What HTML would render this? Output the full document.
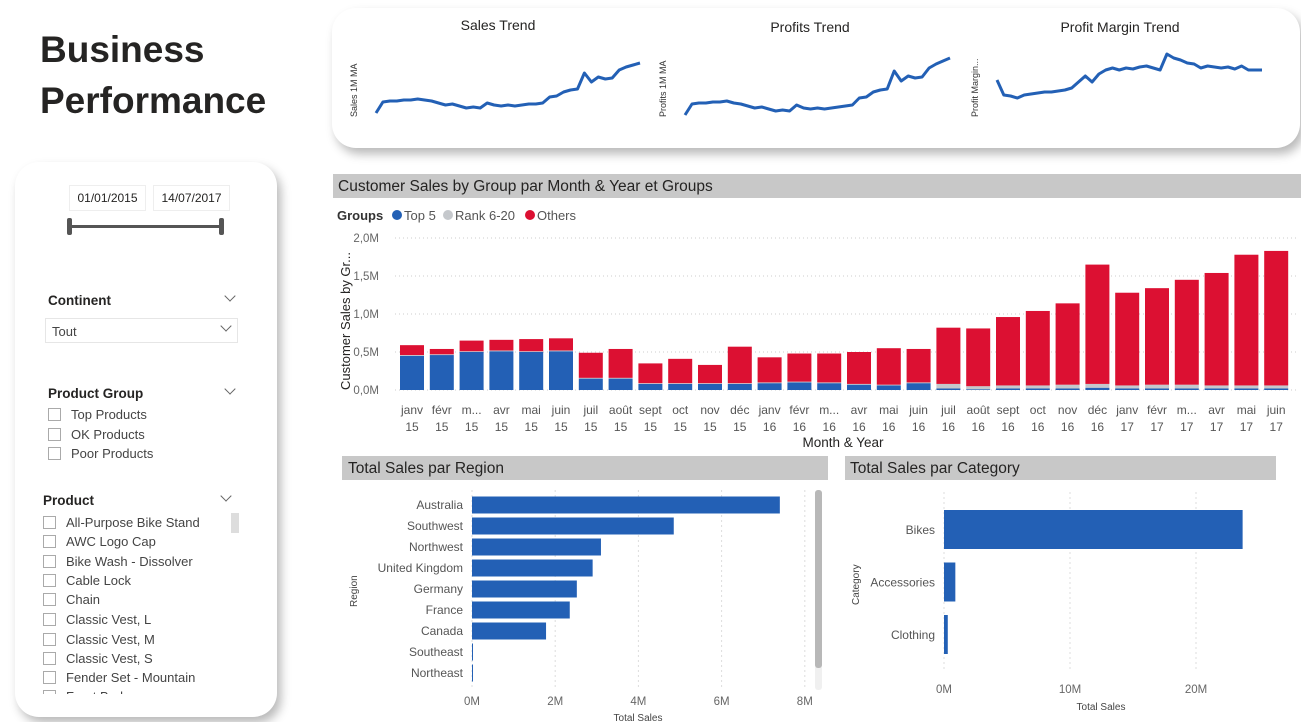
<!DOCTYPE html>
<html><head><meta charset="utf-8"><style>
body{margin:0;width:1301px;height:722px;background:#fff;font-family:"Liberation Sans",sans-serif;position:relative;overflow:hidden;color:#252423}
.abs{position:absolute}
.panel{position:absolute;background:#fff;border-radius:24px;box-shadow:4px 6px 10px rgba(0,0,0,0.28)}
.cb{display:inline-block;width:11px;height:11px;border:1px solid #aaa;vertical-align:-2px;margin-right:10px;background:#fff}
.item{position:absolute;font-size:13px;color:#444;white-space:nowrap}
.chev{position:absolute;width:7px;height:7px;border-right:1.3px solid #666;border-bottom:1.3px solid #666;transform:rotate(45deg)}
.hdr{position:absolute;font-size:13.5px;font-weight:bold;color:#252423}
</style></head><body>
<div class="abs" style="left:40px;top:24px;font-size:37px;font-weight:bold;line-height:51px;color:#252423">Business<br>Performance</div>

<div class="panel" style="left:332px;top:8px;width:968px;height:140px"></div>
<div class="panel" style="left:15px;top:162px;width:262px;height:555px"></div>

<div class="abs" style="left:69px;top:185px;width:75px;height:24px;border:1px solid #eee;font-size:12px;line-height:24px;text-align:center">01/01/2015</div>
<div class="abs" style="left:153px;top:185px;width:75px;height:24px;border:1px solid #eee;font-size:12px;line-height:24px;text-align:center">14/07/2017</div>
<div class="abs" style="left:70px;top:225px;width:152px;height:3px;background:#555"></div>
<div class="abs" style="left:67px;top:218px;width:5px;height:17px;background:#555;border-radius:2px"></div>
<div class="abs" style="left:219px;top:218px;width:5px;height:17px;background:#555;border-radius:2px"></div>

<div class="hdr" style="left:48px;top:293px">Continent</div>
<div class="chev" style="left:226px;top:292px"></div>
<div class="abs" style="left:45px;top:318px;width:193px;height:25px;border:1px solid #e6e6e6;font-size:13px;line-height:25px;padding-left:6px;box-sizing:border-box;color:#444">Tout</div>
<div class="chev" style="left:222px;top:322px"></div>

<div class="hdr" style="left:48px;top:386px">Product Group</div>
<div class="chev" style="left:226px;top:385px"></div>
<div class="item" style="left:48px;top:407px"><span class="cb"></span>Top Products</div>
<div class="item" style="left:48px;top:427px"><span class="cb"></span>OK Products</div>
<div class="item" style="left:48px;top:446px"><span class="cb"></span>Poor Products</div>

<div class="hdr" style="left:43px;top:493px">Product</div>
<div class="chev" style="left:222px;top:492px"></div>
<div class="abs" style="left:231px;top:513px;width:8px;height:20px;background:#ddd"></div>
<div class="abs" style="left:43px;top:514px;width:185px;height:180px;overflow:hidden">
<div class="item" style="left:0;top:1px"><span class="cb"></span>All-Purpose Bike Stand</div>
<div class="item" style="left:0;top:20px"><span class="cb"></span>AWC Logo Cap</div>
<div class="item" style="left:0;top:40px"><span class="cb"></span>Bike Wash - Dissolver</div>
<div class="item" style="left:0;top:59px"><span class="cb"></span>Cable Lock</div>
<div class="item" style="left:0;top:78px"><span class="cb"></span>Chain</div>
<div class="item" style="left:0;top:98px"><span class="cb"></span>Classic Vest, L</div>
<div class="item" style="left:0;top:118px"><span class="cb"></span>Classic Vest, M</div>
<div class="item" style="left:0;top:137px"><span class="cb"></span>Classic Vest, S</div>
<div class="item" style="left:0;top:156px"><span class="cb"></span>Fender Set - Mountain</div>
<div class="item" style="left:0;top:175px"><span class="cb"></span>Front Brakes</div>
</div>

<svg id="svg" class="abs" style="left:0;top:0" width="1301" height="722" font-family="Liberation Sans, sans-serif"></svg>

<script>
// ---- Sparkline data ----
const salesTrend=[0,11,12,12,13,13,14,13,12,10,8,9,7,5,6,5,10,8,7,8,7,8,9,9,10,16,17,21,23,24,40,31,36,34,35,43,46,48,50];
const profitsTrend=[0,11,12,12,13,13,14,12,11,9,7,8,6,4,5,4,10,7,6,7,6,7,8,9,10,17,18,23,25,26,44,34,39,37,38,47,51,54,57];
const marginTrend=[20,5,4,2,5,6,7,8,8,9,10,12,18,24,18,26,30,32,30,32,31,33,34,32,30,46,42,40,37,36,32,34,33,32,33,31,34,30,30,30];
// ---- Main stacked chart data ----
const months=["janv","févr","m...","avr","mai","juin","juil","août","sept","oct","nov","déc","janv","févr","m...","avr","mai","juin","juil","août","sept","oct","nov","déc","janv","févr","m...","avr","mai","juin"];
const years=["15","15","15","15","15","15","15","15","15","15","15","15","16","16","16","16","16","16","16","16","16","16","16","16","17","17","17","17","17","17"];
const top5=[0.45,0.46,0.50,0.51,0.50,0.51,0.15,0.15,0.08,0.08,0.08,0.08,0.09,0.10,0.09,0.07,0.06,0.09,0.02,0.01,0.02,0.02,0.02,0.03,0.02,0.02,0.02,0.02,0.02,0.02];
const rank620=[0.01,0.01,0.01,0.01,0.01,0.01,0.01,0.01,0.01,0.01,0.01,0.01,0.01,0.01,0.01,0.01,0.01,0.01,0.06,0.04,0.04,0.04,0.05,0.05,0.04,0.05,0.05,0.04,0.04,0.04];
const others=[0.13,0.07,0.14,0.14,0.16,0.16,0.33,0.38,0.26,0.32,0.24,0.48,0.33,0.37,0.38,0.42,0.48,0.44,0.74,0.76,0.90,0.98,1.07,1.57,1.22,1.27,1.38,1.48,1.72,1.77];
const mainTicks=[0,0.5,1.0,1.5,2.0];
const mainTickLabels=["0,0M","0,5M","1,0M","1,5M","2,0M"];
// ---- Region data ----
const regions=["Australia","Southwest","Northwest","United Kingdom","Germany","France","Canada","Southeast","Northeast"];
const regionSales=[7.4,4.85,3.1,2.9,2.52,2.35,1.78,0.02,0.02];
const regionTicks=[0,2,4,6,8];
// ---- Category data ----
const categories=["Bikes","Accessories","Clothing"];
const categorySales=[23.7,0.9,0.3];
const categoryTicks=[0,10,20];

const NS="http://www.w3.org/2000/svg";
const svg=document.getElementById('svg');
function mk(tag,attrs,parent){const e=document.createElementNS(NS,tag);for(const k in attrs)e.setAttribute(k,attrs[k]);(parent||svg).appendChild(e);return e;}
function txt(s,attrs){const t=mk('text',attrs);t.textContent=s;return t;}
const BLUE="#2360b5",RED="#dc1032",GREY="#c5c8cc";

// Sparklines
function spark(data,x0,x1,yBottom,scale,name,title,tx,ty,ylab){
  const xs=i=>x0+(x1-x0)*i/(data.length-1);
  const ys=v=>yBottom-v*scale;
  let d=data.map((v,i)=>(i?'L':'M')+xs(i).toFixed(1)+','+ys(v).toFixed(1)).join(' ');
  const p=mk('path',{d:d,fill:'none',stroke:BLUE,'stroke-width':3,'stroke-linejoin':'round'});
  
  
  const t=txt(title,{x:tx,y:ty,'font-size':14,'text-anchor':'middle',fill:'#252423'});
  
  
  const yl=txt(ylab,{x:0,y:0,'font-size':9,fill:'#333',transform:'translate('+(x0-19)+',117) rotate(-90)'});
  
  
}
spark(salesTrend,376,640,113,1,'sales-trend-line','Sales Trend',498,30,'Sales 1M MA');
spark(profitsTrend,685,950,115,1,'profits-trend-line','Profits Trend',810,32,'Profits 1M MA');
spark(marginTrend,997,1262,100,1,'profit-margin-trend-line','Profit Margin Trend',1120,32,'Profit Margin...');

// Main chart header
let r=mk('rect',{x:333,y:174,width:968,height:24,fill:'#c8c8c8'});


let t=txt('Customer Sales by Group par Month & Year et Groups',{x:338,y:191,'font-size':15.5,fill:'#252423'});


// legend
t=txt('Groups',{x:337,y:220,'font-size':13,'font-weight':'bold',fill:'#333'});


const leg=[["Top 5",BLUE,397],["Rank 6-20",GREY,448],["Others",RED,530]];
leg.forEach(l=>{
  const c=mk('circle',{cx:l[2],cy:215,r:5,fill:l[1]});
  
  
  const tt=txt(l[0],{x:l[2]+7,y:220,'font-size':13,fill:'#555'});
  
  
});
// axes
const yM=v=>390-v*76;
const xM=i=>412+i*29.8;
mainTicks.forEach((v,i)=>{
  const g=mk('line',{x1:395,x2:1296,y1:yM(v),y2:yM(v),stroke:'#ccc','stroke-dasharray':'1,3'});
  
  
  const l=txt(mainTickLabels[i],{x:379,y:yM(v)+4,'font-size':11.5,'text-anchor':'end',fill:'#666'});
  
  
});
t=txt('Customer Sales by Gr...',{x:0,y:0,'font-size':13,fill:'#252423',transform:'translate(350,390) rotate(-90)'});


months.forEach((m,i)=>{
  const x=xM(i),bw=24;
  let y0=390;
  [[top5[i],BLUE,'bar-top5'],[rank620[i],GREY,'bar-rank6-20'],[others[i],RED,'bar-others']].forEach(s=>{
    const h=s[0]*76;
    const b=mk('rect',{x:x-bw/2,y:y0-h,width:bw,height:h,fill:s[1]});
    
    
    y0-=h;
  });
  const l1=txt(m,{x:x,y:414,'font-size':12,'text-anchor':'middle',fill:'#555'});
  
  
  const l2=txt(years[i],{x:x,y:431,'font-size':12,'text-anchor':'middle',fill:'#555'});
  
  
});
t=txt('Month & Year',{x:843,y:447,'font-size':13.5,'text-anchor':'middle',fill:'#252423'});



// Region chart
r=mk('rect',{x:342,y:456,width:486,height:24,fill:'#c8c8c8'});


t=txt('Total Sales par Region',{x:348,y:473,'font-size':15.5,fill:'#252423'});


const xR=v=>472+v*41.6;
regionTicks.forEach(v=>{
  const g=mk('line',{x1:xR(v),x2:xR(v),y1:490,y2:690,stroke:'#ddd','stroke-dasharray':'2,3'});
  
  
  const l=txt(v+'M',{x:xR(v),y:705,'font-size':11.5,'text-anchor':'middle',fill:'#666'});
  
  
});
regions.forEach((n,i)=>{
  const cy=505+i*21;
  const b=mk('rect',{x:472,y:cy-8.5,width:Math.max(1,regionSales[i]*41.6),height:17,fill:BLUE});
  
  
  const l=txt(n,{x:463,y:cy+4,'font-size':12,'text-anchor':'end',fill:'#555'});
  
  
});
r=mk('rect',{x:815,y:490,width:7,height:200,fill:'#f0f0f0',rx:3});


r=mk('rect',{x:815,y:490,width:7,height:178,fill:'#b8b8b8',rx:3});


t=txt('Total Sales',{x:638,y:721,'font-size':10,'text-anchor':'middle',fill:'#444'});


t=txt('Region',{x:0,y:0,'font-size':10,fill:'#444',transform:'translate(357,607) rotate(-90)'});



// Category chart
r=mk('rect',{x:845,y:456,width:431,height:24,fill:'#c8c8c8'});


t=txt('Total Sales par Category',{x:850,y:473,'font-size':15.5,fill:'#252423'});


const xC=v=>944+v*12.6;
categoryTicks.forEach(v=>{
  const g=mk('line',{x1:xC(v),x2:xC(v),y1:492,y2:672,stroke:'#ddd','stroke-dasharray':'2,3'});
  
  
  const l=txt(v+'M',{x:xC(v),y:693,'font-size':11.5,'text-anchor':'middle',fill:'#666'});
  
  
});
categories.forEach((n,i)=>{
  const cy=530+i*52.5;
  const b=mk('rect',{x:944,y:cy-20,width:Math.max(2,categorySales[i]*12.6),height:39,fill:BLUE});
  
  
  const l=txt(n,{x:935,y:cy+4,'font-size':12,'text-anchor':'end',fill:'#555'});
  
  
});
t=txt('Total Sales',{x:1101,y:710,'font-size':10,'text-anchor':'middle',fill:'#444'});


t=txt('Category',{x:0,y:0,'font-size':10,fill:'#444',transform:'translate(859,605) rotate(-90)'});


</script>
</body></html>
